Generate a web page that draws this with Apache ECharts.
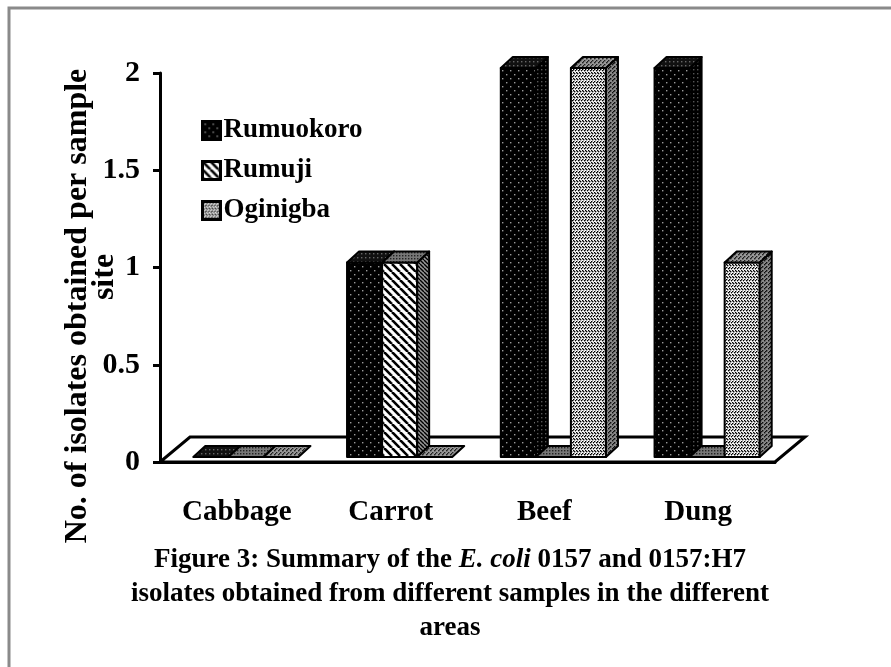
<!DOCTYPE html>
<html>
<head>
<meta charset="utf-8">
<script src="https://cdn.jsdelivr.net/npm/echarts@6/dist/echarts.min.js"></script>
<style>
  html, body { margin: 0; padding: 0; background: #fff; }
  #chart { width: 891px; height: 667px; }
</style>
</head>
<body>
<div id="chart"></div>
<script>
// 数据
const categories = ['Cabbage', 'Carrot', 'Beef', 'Dung']
const siteNames = ['Rumuokoro', 'Rumuji', 'Oginigba']
const rumuokoro = [0, 1, 2, 2]
const rumuji = [0, 1, 0, 0]
const oginigba = [0, 0, 2, 1]
const yMin = 0
const yMax = 2
const yStep = 0.5

const FONT = '"Liberation Serif", "Times New Roman", serif'

// 填充纹理
const makePattern = (size, draw) => {
  const c = document.createElement('canvas')
  c.width = size
  c.height = size
  const ctx = c.getContext('2d')
  draw(ctx, size)
  return { image: c, repeat: 'repeat' }
}

const dots = (bg, fg, size, pts) => makePattern(size, (ctx, s) => {
  ctx.fillStyle = bg
  ctx.fillRect(0, 0, s, s)
  ctx.fillStyle = fg
  pts.forEach(p => ctx.fillRect(p[0], p[1], 1.4, 1.4))
})

const stripes = (bg, fg, size, w) => makePattern(size, (ctx, s) => {
  ctx.fillStyle = bg
  ctx.fillRect(0, 0, s, s)
  ctx.strokeStyle = fg
  ctx.lineWidth = w
  for (let k = -1; k <= 1; k++) {
    ctx.beginPath()
    ctx.moveTo(k * s, 0)
    ctx.lineTo(k * s + s, s)
    ctx.stroke()
  }
})

const faces = [
  {
    front: dots('#000', '#999', 8, [[2, 2], [6, 6]]),
    side: dots('#000', '#555', 4, [[1, 1]]),
    top: dots('#111', '#666', 4, [[1, 1]])
  },
  {
    front: stripes('#fff', '#000', 8, 2.6),
    side: stripes('#999', '#000', 4, 1.4),
    top: dots('#777', '#222', 3, [[0, 0]])
  },
  {
    front: dots('#fff', '#000', 6, [[0, 0], [1, 1], [3, 0], [4, 1], [0, 3], [2, 4], [3, 3], [5, 4]]),
    side: dots('#888', '#111', 4, [[0, 0], [2, 2], [1, 3]]),
    top: dots('#999', '#222', 4, [[0, 0], [2, 2], [3, 1]])
  }
]

// 立体柱参数
const DX = 12
const DY = -11
const SHIFT_X = 9
const SHIFT_Y = -5
const FLOOR_DX = 30
const FLOOR_DY = -25

const faceStyle = fill => ({ fill: fill, stroke: '#000', lineWidth: 2, lineJoin: 'round' })

const barRenderer = (idx) => (params, api) => {
  const cat = api.value(0)
  const val = api.value(1)
  const base = api.coord([cat, 0])
  const top = api.coord([cat, val])
  const bw = api.size([1, 0])[0] * 0.228
  const x0 = base[0] + SHIFT_X + (idx - 1.5) * bw
  const x1 = x0 + bw
  const yb = base[1] + SHIFT_Y
  const yt = top[1] + SHIFT_Y
  const f = faces[idx]
  const children = []
  if (yb - yt > 0.5) {
    children.push({
      type: 'rect',
      shape: { x: x0, y: yt, width: bw, height: yb - yt },
      style: faceStyle(f.front)
    })
    children.push({
      type: 'polygon',
      shape: { points: [[x1, yt], [x1 + DX, yt + DY], [x1 + DX, yb + DY], [x1, yb]] },
      style: faceStyle(f.side)
    })
  }
  children.push({
    type: 'polygon',
    shape: { points: [[x0, yt], [x0 + DX, yt + DY], [x1 + DX, yt + DY], [x1, yt]] },
    style: faceStyle(f.top)
  })
  return { type: 'group', children }
}

const floorRenderer = (params) => {
  const cs = params.coordSys
  const yb = cs.y + cs.height
  return {
    type: 'polygon',
    shape: {
      points: [
        [cs.x, yb], [cs.x + cs.width, yb],
        [cs.x + cs.width + FLOOR_DX, yb + FLOOR_DY], [cs.x + FLOOR_DX, yb + FLOOR_DY]
      ]
    },
    style: { fill: '#fff', stroke: '#000', lineWidth: 3 }
  }
}

const seriesValues = [rumuokoro, rumuji, oginigba]

const chart = echarts.init(document.getElementById('chart'))

chart.setOption({
  backgroundColor: '#fff',
  animation: false,
  grid: { left: 160, right: 116, top: 73, bottom: 205 },
  legend: {
    orient: 'vertical',
    left: 201,
    top: 117,
    padding: 0,
    itemGap: 13,
    itemWidth: 18,
    itemHeight: 18,
    icon: 'rect',
    textStyle: { fontFamily: FONT, fontWeight: 'bold', fontSize: 27, color: '#000', padding: [0, 0, 0, -2] },
    data: siteNames.map((n, i) => ({
      name: n,
      itemStyle: { color: faces[i].front, borderColor: '#000', borderWidth: 3 }
    }))
  },
  xAxis: {
    type: 'category',
    data: categories,
    axisLine: { lineStyle: { color: '#000', width: 3 } },
    axisTick: { length: 10, lineStyle: { color: '#000', width: 3 } },
    axisLabel: { fontFamily: FONT, fontWeight: 'bold', fontSize: 29, color: '#000', margin: 36 }
  },
  yAxis: {
    type: 'value',
    min: yMin,
    max: yMax,
    interval: yStep,
    axisLine: { show: true, lineStyle: { color: '#000', width: 3 } },
    axisTick: { show: true, length: 7, lineStyle: { color: '#000', width: 3 } },
    axisLabel: { fontFamily: FONT, fontWeight: 'bold', fontSize: 30, color: '#000', margin: 20 },
    splitLine: { show: false }
  },
  graphic: [
    {
      type: 'rect',
      shape: { x: 9, y: 8, width: 920, height: 700 },
      style: { fill: 'none', stroke: '#8a8a8a', lineWidth: 3 },
      z: 0
    },
    {
      type: 'text',
      x: 78,
      y: 306,
      rotation: Math.PI / 2,
      style: {
        text: 'No. of isolates obtained per sample',
        font: 'bold 32px ' + FONT,
        fill: '#000',
        align: 'center',
        verticalAlign: 'middle'
      }
    },
    {
      type: 'text',
      x: 105,
      y: 277,
      rotation: Math.PI / 2,
      style: {
        text: 'site',
        font: 'bold 32px ' + FONT,
        fill: '#000',
        align: 'center',
        verticalAlign: 'middle'
      }
    },
    {
      type: 'text',
      x: 450,
      y: 543,
      style: {
        text: '{b|Figure 3: Summary of the }{i|E. coli}{b| 0157 and 0157:H7}\n{b|isolates obtained from different samples in the different}\n{b|areas}',
        align: 'center',
        fill: '#000',
        rich: {
          b: { fontFamily: FONT, fontWeight: 'bold', fontSize: 27, lineHeight: 34, fill: '#000' },
          i: { fontFamily: FONT, fontWeight: 'bold', fontStyle: 'italic', fontSize: 27, lineHeight: 34, fill: '#000' }
        }
      }
    }
  ],
  series: [
    {
      type: 'custom',
      name: 'floor',
      silent: true,
      z: 1,
      renderItem: floorRenderer,
      data: [[0, 0]]
    }
  ].concat(siteNames.map((name, i) => ({
    type: 'custom',
    name: name,
    z: 3,
    itemStyle: { color: faces[i].front },
    renderItem: barRenderer(i),
    encode: { x: 0, y: 1 },
    data: seriesValues[i].map((v, k) => [k, v])
  })))
})
</script>
</body>
</html>
